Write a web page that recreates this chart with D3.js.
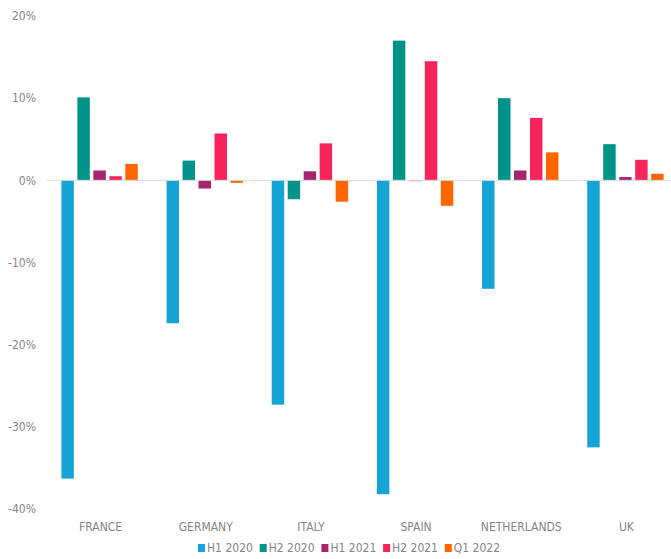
<!DOCTYPE html>
<html>
<head>
<meta charset="utf-8">
<script src="https://cdn.jsdelivr.net/npm/d3@7"></script>
<style>
	body { margin: 0; background: #fff; }
	text { font-family: "Liberation Sans Narrow", "DejaVu Sans Condensed", sans-serif; fill: #858585; font-size: 12px; }
</style>
</head>
<body>
<div id="chart"></div>
<script>
const countries = ["FRANCE", "GERMANY", "ITALY", "SPAIN", "NETHERLANDS", "UK"];
const seriesNames = ["H1 2020", "H2 2020", "H1 2021", "H2 2021", "Q1 2022"];
const seriesColors = ["#16a3d6", "#00938a", "#a6266e", "#f7245b", "#ff6600"];
const yTicks = [20, 10, 0, -10, -20, -30, -40];

// values in %, one array per series, in country order
const h12020 = [-36.3, -17.4, -27.3, -38.2, -13.2, -32.5];
const h22020 = [10.1, 2.4, -2.3, 17.0, 10.0, 4.4];
const h12021 = [1.2, -1.0, 1.1, -0.1, 1.2, 0.4];
const h22021 = [0.5, 5.7, 4.5, 14.5, 7.6, 2.5];
const q12022 = [2.0, -0.3, -2.6, -3.1, 3.4, 0.8];

const seriesValues = [h12020, h22020, h12021, h22021, q12022];

const width = 671, height = 559;

const svg = d3.select("#chart")
	.append("svg")
	.attr("width", width)
	.attr("height", height);

const y = d3.scaleLinear()
	.domain([-40, 20])
	.range([509, 16]);

const x0 = d3.scaleBand()
	.domain(countries)
	.range([47, 678])
	.padding(0);

const x1 = d3.scaleBand()
	.domain(seriesNames)
	.range([0, x0.bandwidth()])
	.paddingInner(0.22)
	.paddingOuter(0.9);

// y tick labels (no axis line)
svg.selectAll(".ytick")
	.data(yTicks)
	.enter()
	.append("text")
	.attr("class", "ytick")
	.attr("x", 36)
	.attr("y", d => y(d))
	.attr("dy", "0.35em")
	.attr("text-anchor", "end")
	.text(d => d + "%");

// bars
const rows = [];
countries.forEach((c, i) => {
	seriesNames.forEach((s, j) => {
		rows.push({ country: c, series: s, value: seriesValues[j][i], color: seriesColors[j] });
	});
});

svg.selectAll(".bar")
	.data(rows)
	.enter()
	.append("rect")
	.attr("class", "bar")
	.attr("x", d => x0(d.country) + x1(d.series))
	.attr("y", d => y(Math.max(0, d.value)))
	.attr("width", x1.bandwidth())
	.attr("height", d => Math.abs(y(d.value) - y(0)))
	.attr("fill", d => d.color);

// zero line
svg.append("line")
	.attr("x1", 47)
	.attr("x2", 671)
	.attr("y1", y(0))
	.attr("y2", y(0))
	.attr("stroke", "#d9d9d9")
	.attr("stroke-width", 1);

// category labels
svg.selectAll(".xlabel")
	.data(countries)
	.enter()
	.append("text")
	.attr("class", "xlabel")
	.attr("x", d => x0(d) + x0.bandwidth() / 2 + 1)
	.attr("y", 527)
	.attr("dy", "0.35em")
	.attr("text-anchor", "middle")
	.text(d => d);

// legend
const legend = svg.selectAll(".legend")
	.data(seriesNames)
	.enter()
	.append("g")
	.attr("class", "legend")
	.attr("transform", (d, i) => `translate(${198 + i * 61.7},548)`);

legend.append("rect")
	.attr("x", 0)
	.attr("y", -4)
	.attr("width", 7)
	.attr("height", 8)
	.attr("fill", (d, i) => seriesColors[i]);

legend.append("text")
	.attr("x", 9)
	.attr("y", 0)
	.attr("dy", "0.35em")
	.text(d => d);
</script>
</body>
</html>
